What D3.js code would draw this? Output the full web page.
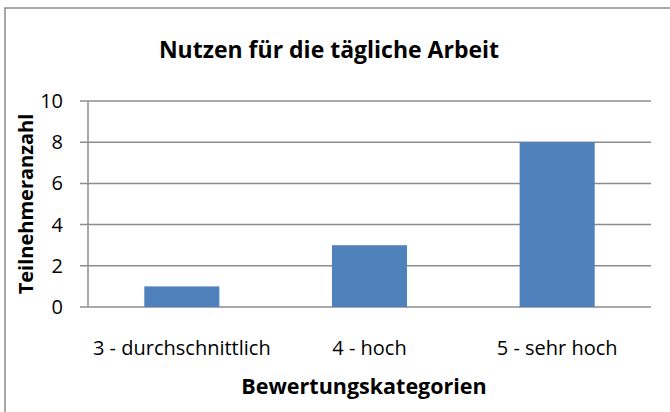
<!DOCTYPE html>
<html>
<head>
<meta charset="utf-8">
<script src="https://cdn.jsdelivr.net/npm/d3@7"></script>
<style>
  body { margin: 0; background: #fff; }
  text { font-family: "Open Sans", sans-serif; fill: #000; }
</style>
</head>
<body>
<script>
// Daten
var categories = ["3 - durchschnittlich", "4 - hoch", "5 - sehr hoch"];
var values = [1, 3, 8];
var yTicks = [0, 2, 4, 6, 8, 10];

var width = 670, height = 412;
var plot = { left: 88, right: 651, top: 101, bottom: 307 };

var svg = d3.select("body").append("svg")
    .attr("width", width)
    .attr("height", height);

svg.append("rect")
    .attr("width", width).attr("height", height)
    .attr("fill", "#fff");

// Rahmen
svg.append("rect")
    .attr("x", 5).attr("y", 8)
    .attr("width", 700).attr("height", 420)
    .attr("fill", "none")
    .attr("stroke", "#8c8c8c")
    .attr("stroke-width", 1.5);

var x = d3.scaleBand()
    .domain(categories)
    .range([plot.left, plot.right])
    .paddingInner(0.6)
    .paddingOuter(0.3);

var y = d3.scaleLinear()
    .domain([0, 10])
    .range([plot.bottom, plot.top]);

// Gitterlinien
svg.append("g")
    .selectAll("line")
    .data(yTicks)
    .enter()
    .append("line")
    .attr("x1", plot.left - 8)
    .attr("x2", plot.right)
    .attr("y1", function (d) { return y(d); })
    .attr("y2", function (d) { return y(d); })
    .attr("stroke", "#8c8c8c")
    .attr("stroke-width", 1.5);

// Balken
svg.append("g")
    .selectAll("rect")
    .data(values)
    .enter()
    .append("rect")
    .attr("x", function (d, i) { return x(categories[i]); })
    .attr("y", function (d) { return y(d); })
    .attr("width", x.bandwidth())
    .attr("height", function (d) { return y(0) - y(d); })
    .attr("fill", "#4f81bd");

// y-Achse
svg.append("line")
    .attr("x1", plot.left).attr("x2", plot.left)
    .attr("y1", plot.top).attr("y2", plot.bottom)
    .attr("stroke", "#8c8c8c")
    .attr("stroke-width", 1.5);

svg.append("g")
    .selectAll("text")
    .data(yTicks)
    .enter()
    .append("text")
    .attr("x", 63)
    .attr("y", function (d) { return y(d); })
    .attr("dy", "0.35em")
    .attr("text-anchor", "end")
    .style("font-size", "20px")
    .text(function (d) { return d; });

// Kategorien
svg.append("g")
    .selectAll("text")
    .data(categories)
    .enter()
    .append("text")
    .attr("x", function (d) { return x(d) + x.bandwidth() / 2; })
    .attr("y", 355)
    .attr("text-anchor", "middle")
    .style("font-size", "20px")
    .text(function (d) { return d; });

// Titel
svg.append("text")
    .attr("x", 329).attr("y", 58)
    .attr("text-anchor", "middle")
    .style("font-size", "23px")
    .style("font-weight", "bold")
    .text("Nutzen für die tägliche Arbeit");

svg.append("text")
    .attr("x", 364).attr("y", 394)
    .attr("text-anchor", "middle")
    .style("font-size", "21.5px")
    .style("font-weight", "bold")
    .text("Bewertungskategorien");

svg.append("text")
    .attr("transform", "translate(33,204) rotate(-90)")
    .attr("text-anchor", "middle")
    .style("font-size", "20px")
    .style("font-weight", "bold")
    .text("Teilnehmeranzahl");
</script>
</body>
</html>
